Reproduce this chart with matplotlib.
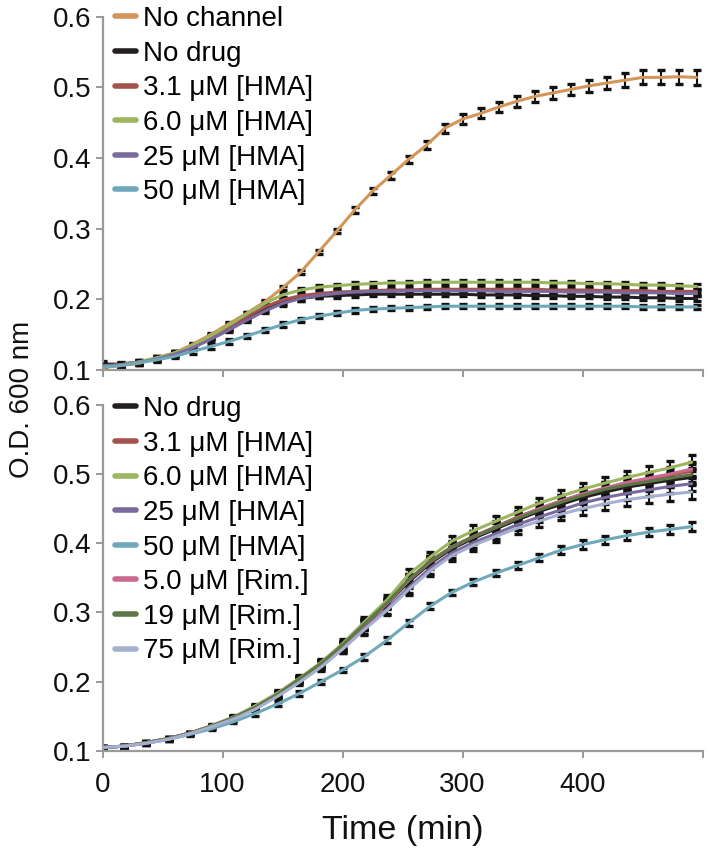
import matplotlib
matplotlib.use("Agg")
import matplotlib.pyplot as plt

plt.rcParams['font.family'] = ['Liberation Sans', 'DejaVu Sans']

# ---------------- data ----------------
t_top = [0, 15, 30, 45, 60, 75, 90, 105, 120, 135, 150, 165, 180, 195, 210, 225, 240,
         255, 270, 285, 300, 315, 330, 345, 360, 375, 390, 405, 420, 435, 450, 465, 480, 495]

top_no_channel = [0.103, 0.106, 0.109, 0.116, 0.124, 0.136, 0.150, 0.165, 0.180, 0.196, 0.216, 0.238,
                  0.267, 0.296, 0.326, 0.353, 0.375, 0.398, 0.418, 0.442, 0.455, 0.463, 0.472, 0.480,
                  0.487, 0.492, 0.497, 0.502, 0.506, 0.510, 0.514, 0.514, 0.515, 0.514]
top_no_drug = [0.108, 0.108, 0.111, 0.116, 0.123, 0.133, 0.146, 0.159, 0.173, 0.186, 0.196, 0.201,
               0.204, 0.205, 0.206, 0.207, 0.207, 0.207, 0.207, 0.207, 0.207, 0.206, 0.206, 0.206,
               0.205, 0.205, 0.204, 0.204, 0.203, 0.203, 0.202, 0.202, 0.201, 0.201]
top_hma31 = [0.106, 0.107, 0.111, 0.116, 0.123, 0.133, 0.146, 0.160, 0.175, 0.189, 0.199, 0.205,
             0.208, 0.210, 0.211, 0.212, 0.213, 0.213, 0.214, 0.214, 0.214, 0.214, 0.214, 0.214,
             0.214, 0.213, 0.213, 0.213, 0.212, 0.212, 0.212, 0.211, 0.211, 0.211]
top_hma60 = [0.105, 0.107, 0.111, 0.117, 0.124, 0.134, 0.148, 0.163, 0.179, 0.194, 0.206, 0.213,
             0.217, 0.219, 0.221, 0.222, 0.223, 0.223, 0.224, 0.224, 0.224, 0.224, 0.224, 0.224,
             0.224, 0.223, 0.223, 0.222, 0.222, 0.221, 0.220, 0.220, 0.219, 0.218]
top_hma25 = [0.105, 0.107, 0.110, 0.115, 0.122, 0.131, 0.143, 0.156, 0.170, 0.183, 0.194, 0.201,
             0.205, 0.208, 0.210, 0.211, 0.211, 0.212, 0.212, 0.212, 0.212, 0.212, 0.211, 0.211,
             0.211, 0.211, 0.210, 0.210, 0.210, 0.209, 0.209, 0.209, 0.208, 0.208]
top_hma50 = [0.104, 0.106, 0.110, 0.114, 0.119, 0.126, 0.133, 0.140, 0.148, 0.156, 0.164, 0.171,
             0.176, 0.180, 0.184, 0.186, 0.187, 0.188, 0.189, 0.190, 0.190, 0.190, 0.190, 0.190,
             0.190, 0.190, 0.190, 0.190, 0.190, 0.190, 0.189, 0.189, 0.189, 0.189]

err_top_orange = [0.002, 0.002, 0.002, 0.002, 0.002, 0.002, 0.002, 0.002, 0.002, 0.003, 0.003, 0.003,
                  0.003, 0.003, 0.004, 0.004, 0.005, 0.005, 0.006, 0.006, 0.007, 0.007, 0.007, 0.008,
                  0.008, 0.008, 0.008, 0.009, 0.009, 0.010, 0.010, 0.010, 0.010, 0.011]
err_top_other = [0.004, 0.003, 0.003, 0.003, 0.003, 0.003, 0.003, 0.003, 0.003, 0.003, 0.003, 0.003,
                 0.003, 0.003, 0.003, 0.003, 0.003, 0.003, 0.003, 0.003, 0.003, 0.003, 0.003, 0.003,
                 0.003, 0.003, 0.003, 0.003, 0.003, 0.003, 0.003, 0.003, 0.003, 0.003]

t_bot = [0, 18, 36, 55, 73, 91, 109, 127, 146, 164, 182, 200, 218, 237, 255, 273, 291, 309,
         328, 346, 364, 382, 400, 419, 437, 455, 473, 491]

bot_no_drug = [0.105, 0.107, 0.112, 0.118, 0.126, 0.136, 0.148, 0.163, 0.182, 0.203, 0.225, 0.251,
               0.281, 0.312, 0.344, 0.371, 0.392, 0.407, 0.421, 0.434, 0.446, 0.456, 0.466, 0.474,
               0.481, 0.486, 0.491, 0.495]
bot_hma31 = [0.105, 0.107, 0.112, 0.118, 0.126, 0.136, 0.148, 0.163, 0.182, 0.203, 0.226, 0.252,
             0.282, 0.313, 0.347, 0.374, 0.395, 0.410, 0.424, 0.438, 0.450, 0.461, 0.471, 0.479,
             0.486, 0.492, 0.498, 0.504]
bot_hma60 = [0.105, 0.107, 0.112, 0.118, 0.126, 0.137, 0.149, 0.165, 0.184, 0.205, 0.228, 0.255,
             0.286, 0.318, 0.355, 0.380, 0.403, 0.418, 0.432, 0.445, 0.458, 0.468, 0.478, 0.487,
             0.495, 0.502, 0.509, 0.517]
bot_hma25 = [0.105, 0.107, 0.111, 0.117, 0.125, 0.135, 0.147, 0.161, 0.180, 0.200, 0.222, 0.248,
             0.276, 0.305, 0.336, 0.364, 0.386, 0.401, 0.414, 0.427, 0.438, 0.448, 0.458, 0.466,
             0.472, 0.477, 0.482, 0.486]
bot_hma50 = [0.105, 0.107, 0.111, 0.117, 0.124, 0.132, 0.142, 0.154, 0.168, 0.183, 0.200, 0.217,
             0.236, 0.260, 0.285, 0.309, 0.329, 0.344, 0.357, 0.368, 0.379, 0.390, 0.398, 0.405,
             0.411, 0.416, 0.420, 0.424]
bot_rim5 = [0.105, 0.107, 0.112, 0.118, 0.126, 0.136, 0.148, 0.163, 0.182, 0.203, 0.226, 0.252,
            0.282, 0.313, 0.346, 0.373, 0.394, 0.409, 0.423, 0.437, 0.450, 0.461, 0.471, 0.480,
            0.488, 0.494, 0.500, 0.507]
bot_rim19 = [0.105, 0.107, 0.112, 0.118, 0.126, 0.136, 0.148, 0.163, 0.182, 0.204, 0.226, 0.253,
             0.283, 0.314, 0.347, 0.374, 0.394, 0.409, 0.423, 0.436, 0.448, 0.459, 0.469, 0.478,
             0.484, 0.489, 0.494, 0.499]
bot_rim75 = [0.105, 0.107, 0.111, 0.117, 0.125, 0.135, 0.146, 0.160, 0.179, 0.199, 0.221, 0.247,
             0.275, 0.303, 0.333, 0.360, 0.382, 0.397, 0.410, 0.422, 0.432, 0.442, 0.450, 0.457,
             0.463, 0.467, 0.471, 0.474]

err_bot_main = [0.002, 0.002, 0.002, 0.002, 0.002, 0.002, 0.003, 0.003, 0.004, 0.004, 0.005, 0.006,
                0.007, 0.007, 0.008, 0.008, 0.008, 0.008, 0.008, 0.008, 0.008, 0.009, 0.009, 0.009,
                0.009, 0.009, 0.010, 0.010]
err_bot_teal = [0.002, 0.002, 0.002, 0.002, 0.002, 0.002, 0.002, 0.003, 0.003, 0.003, 0.003, 0.003,
                0.004, 0.004, 0.004, 0.004, 0.004, 0.005, 0.005, 0.005, 0.005, 0.006, 0.006, 0.006,
                0.006, 0.006, 0.007, 0.007]

top_labels = ['No channel', 'No drug', '3.1 μM [HMA]', '6.0 μM [HMA]', '25 μM [HMA]', '50 μM [HMA]']
bot_labels = ['No drug', '3.1 μM [HMA]', '6.0 μM [HMA]', '25 μM [HMA]', '50 μM [HMA]',
              '5.0 μM [Rim.]', '19 μM [Rim.]', '75 μM [Rim.]']

x_ticks = [0, 100, 200, 300, 400, 500]
x_tick_labels = ['0', '100', '200', '300', '400', '']
y_ticks = [0.1, 0.2, 0.3, 0.4, 0.5, 0.6]
y_tick_labels = ['0.1', '0.2', '0.3', '0.4', '0.5', '0.6']

# ---------------- style ----------------
C_ORANGE = '#D29658'
C_BLACK = '#231F20'
C_RED = '#A5524E'
C_GREEN = '#9CB55F'
C_PURPLE = '#7A6A9E'
C_TEAL = '#6EA8BA'
C_PINK = '#C96990'
C_DKGREEN = '#5E7747'
C_LAV = '#A5B0D0'
GRAY = '#9A9A9A'
FS = 20

fig = plt.figure(figsize=(7.10, 8.56), dpi=100)
ax1 = fig.add_axes([0.1445, 0.568, 0.845, 0.4125])
ax2 = fig.add_axes([0.1445, 0.1227, 0.845, 0.4045])

top_series = [
    (top_no_channel, err_top_orange, C_ORANGE),
    (top_no_drug, err_top_other, C_BLACK),
    (top_hma31, err_top_other, C_RED),
    (top_hma60, err_top_other, C_GREEN),
    (top_hma25, err_top_other, C_PURPLE),
    (top_hma50, err_top_other, C_TEAL),
]
bot_series = [
    (bot_no_drug, err_bot_main, C_BLACK),
    (bot_hma31, err_bot_main, C_RED),
    (bot_hma60, err_bot_main, C_GREEN),
    (bot_hma25, err_bot_main, C_PURPLE),
    (bot_hma50, err_bot_teal, C_TEAL),
    (bot_rim5, err_bot_main, C_PINK),
    (bot_rim19, err_bot_main, C_DKGREEN),
    (bot_rim75, err_bot_main, C_LAV),
]


def draw(ax, t, series, labels, anchor_y):
    for (vals, err, col), lab in zip(series, labels):
        ax.errorbar(t, vals, yerr=err, fmt='none', ecolor='#111111', elinewidth=1.5,
                    capsize=2.6, capthick=2.4, zorder=2)
    for (vals, err, col), lab in zip(series, labels):
        ax.plot(t, vals, color=col, lw=2.2, solid_capstyle='round',
                solid_joinstyle='round', zorder=3)
    leg_handles = [plt.Line2D([], [], color=c, lw=4.0, solid_capstyle='round')
                   for (_, _, c) in series]
    ax.legend(leg_handles, labels, loc='upper left', bbox_to_anchor=(0.02, anchor_y),
              frameon=False, fontsize=FS, handlelength=0.78, handletextpad=0.25,
              labelspacing=0.31, borderpad=0, borderaxespad=0)
    ax.set_xlim(0, 500)
    ax.set_ylim(0.1, 0.6)
    ax.set_yticks(y_ticks)
    ax.set_yticklabels(y_tick_labels)
    ax.set_xticks(x_ticks)
    for s in ['top', 'right']:
        ax.spines[s].set_visible(False)
    for s in ['left', 'bottom']:
        ax.spines[s].set_color(GRAY)
        ax.spines[s].set_linewidth(1.6)
    ax.tick_params(axis='both', colors=GRAY, width=1.4, length=5, direction='out',
                   labelsize=FS, labelcolor='#111111', pad=3)
    ax.tick_params(axis='x', pad=10)


draw(ax1, t_top, top_series, top_labels, 1.030)
draw(ax2, t_bot, bot_series, bot_labels, 1.025)
ax1.set_xticklabels([])
ax2.set_xticklabels(x_tick_labels)

fig.text(0.031, 0.533, 'O.D. 600 nm', rotation=90, ha='center', va='center',
         fontsize=20, color='#111111')
fig.text(0.567, 0.030, 'Time (min)', ha='center', va='center', fontsize=24.5, color='#111111')

fig.savefig('out.png', dpi=100)
